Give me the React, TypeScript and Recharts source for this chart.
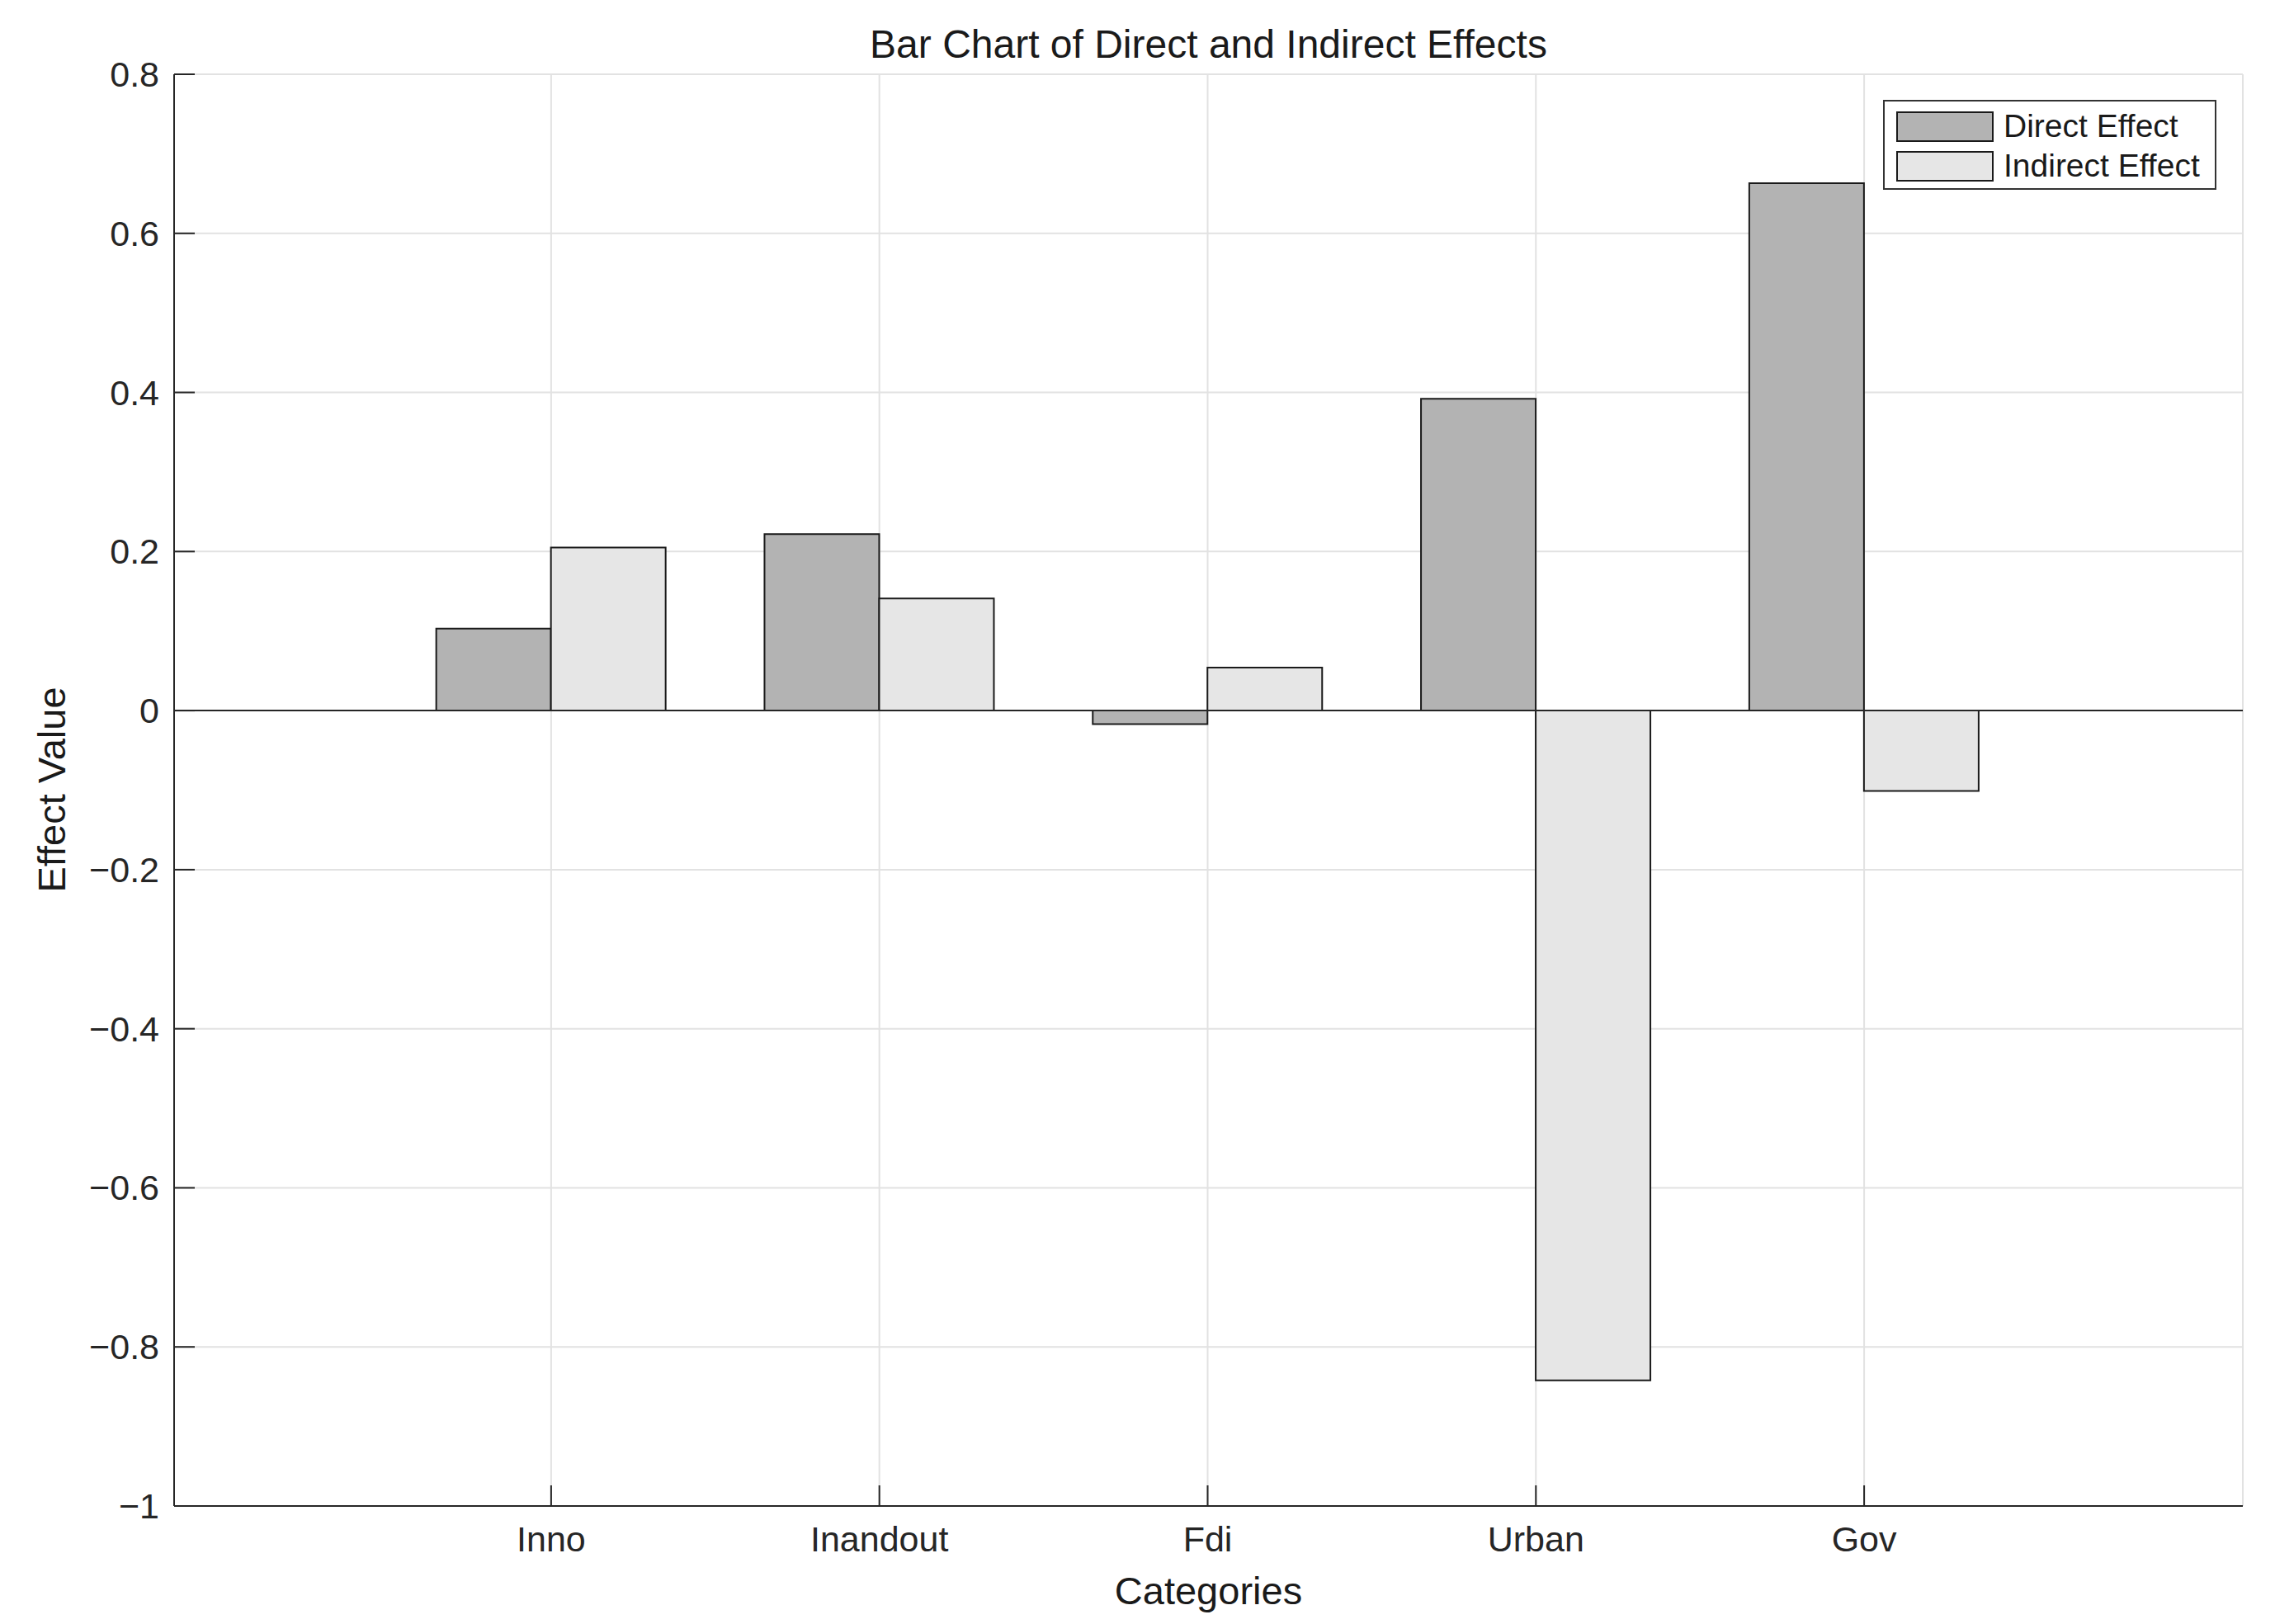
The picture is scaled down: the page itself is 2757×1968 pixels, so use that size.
import { BarChart, Bar, XAxis, YAxis, CartesianGrid, ReferenceLine } from "recharts";

const categories = ["Inno", "Inandout", "Fdi", "Urban", "Gov"];
const directEffect = [0.103, 0.222, -0.017, 0.392, 0.663];
const indirectEffect = [0.205, 0.141, 0.054, -0.842, -0.101];
const yTicks = [-1, -0.8, -0.6, -0.4, -0.2, 0, 0.2, 0.4, 0.6, 0.8];

const data = categories.map((name, i) => ({
  name,
  direct: directEffect[i],
  indirect: indirectEffect[i],
}));

const W = 2757;
const H = 1968;
const FONT = "'Liberation Sans', Arial, Helvetica, sans-serif";
const AXIS = "#262626";
const TICK_LEN = 25;

const fmt = (v: number) => (v === 0 ? "0" : v < 0 ? "\u2212" + Math.abs(v) : String(v));

const LeftTick = (props: any) => {
  const { x, y, payload } = props;
  const ax = x + 18;
  return (
    <g>
      <line x1={ax} x2={ax + TICK_LEN} y1={y} y2={y} stroke={AXIS} strokeWidth={2} />
      <text x={x} y={y} dy="0.35em" textAnchor="end" fontSize={43} fill="#262626" fontFamily={FONT}>
        {fmt(payload.value)}
      </text>
    </g>
  );
};

const RightTick = (props: any) => {
  const { x, y } = props;
  return <line x1={x} x2={x - TICK_LEN} y1={y} y2={y} stroke={AXIS} strokeWidth={2} />;
};

const BottomTick = (props: any) => {
  const { x, y, payload } = props;
  const ay = y - 40;
  return (
    <g>
      <line x1={x} x2={x} y1={ay} y2={ay - TICK_LEN} stroke={AXIS} strokeWidth={2} />
      <text x={x} y={y} dy="0.35em" textAnchor="middle" fontSize={43} fill="#262626" fontFamily={FONT}>
        {payload.value}
      </text>
    </g>
  );
};

const TopTick = (props: any) => {
  const { x, y } = props;
  return <line x1={x} x2={x} y1={y} y2={y + TICK_LEN} stroke={AXIS} strokeWidth={2} />;
};

const legendItems = [
  { label: "Direct Effect", color: "#b3b3b3" },
  { label: "Indirect Effect", color: "#e6e6e6" },
];

const LegendBox = () => (
  <div
    style={{
      position: "absolute",
      left: 2282,
      top: 121,
      border: "2px solid #333",
      background: "#fff",
      boxSizing: "border-box",
      width: 404,
      height: 109,
      padding: "6px 0 0 14px",
      fontFamily: FONT,
      fontSize: 39,
      color: "#1a1a1a",
      zIndex: 2,
    }}
  >
    {legendItems.map((it) => (
      <div key={it.label} style={{ display: "flex", alignItems: "center", height: 48 }}>
        <div
          style={{
            width: 118,
            height: 37,
            boxSizing: "border-box",
            background: it.color,
            border: "2px solid #1a1a1a",
            marginRight: 12,
          }}
        />
        <span style={{ lineHeight: "48px" }}>{it.label}</span>
      </div>
    ))}
  </div>
);

export default function App() {
  return (
    <div style={{ position: "absolute", left: 0, top: 0, width: W, height: H, background: "#fff" }}>
      <div
        style={{
          position: "absolute",
          left: 211,
          width: 2507,
          top: 28,
          textAlign: "center",
          fontFamily: FONT,
          fontSize: 48,
          lineHeight: "52px",
          color: "#1a1a1a",
        }}
      >
        Bar Chart of Direct and Indirect Effects
      </div>
      <div
        style={{
          position: "absolute",
          left: 62,
          top: 957,
          transform: "translate(-50%, -50%) rotate(-90deg)",
          whiteSpace: "nowrap",
          fontFamily: FONT,
          fontSize: 47,
          color: "#1a1a1a",
        }}
      >
        Effect Value
      </div>
      <div
        style={{
          position: "absolute",
          left: 211,
          width: 2507,
          top: 1927,
          transform: "translateY(-50%)",
          textAlign: "center",
          fontFamily: FONT,
          fontSize: 47,
          color: "#1a1a1a",
        }}
      >
        Categories
      </div>
      <BarChart
        width={W}
        height={H}
        data={data}
        margin={{ top: 90, right: 39, bottom: 0, left: 0 }}
        barCategoryGap="15%"
        barGap={0}
        style={{ position: "absolute", left: 0, top: 0 }}
      >
        <CartesianGrid stroke="#e2e2e2" strokeWidth={2} />
        <XAxis
          dataKey="name"
          height={143}
          padding={{ left: 258, right: 260 }}
          tickSize={0}
          tickMargin={40}
          axisLine={{ stroke: AXIS, strokeWidth: 2 }}
          tickLine={false}
          tick={<BottomTick />}
          interval={0}
        />
        <XAxis
          xAxisId="top"
          dataKey="name"
          orientation="top"
          height={0}
          padding={{ left: 258, right: 260 }}
          tickSize={0}
          tickMargin={0}
          axisLine={{ stroke: AXIS, strokeWidth: 2 }}
          tickLine={false}
          tick={<TopTick />}
          interval={0}
        />
        <YAxis
          type="number"
          domain={[-1, 0.8]}
          ticks={yTicks}
          width={211}
          tickSize={0}
          tickMargin={18}
          axisLine={{ stroke: AXIS, strokeWidth: 2 }}
          tickLine={false}
          tick={<LeftTick />}
          interval={0}
          allowDataOverflow
        />
        <YAxis
          yAxisId="right"
          orientation="right"
          type="number"
          domain={[-1, 0.8]}
          ticks={yTicks}
          width={0}
          tickSize={0}
          tickMargin={0}
          axisLine={{ stroke: AXIS, strokeWidth: 2 }}
          tickLine={false}
          tick={<RightTick />}
          interval={0}
          allowDataOverflow
        />
        <Bar
          dataKey="direct"
          name="Direct Effect"
          fill="#b3b3b3"
          stroke="#1a1a1a"
          strokeWidth={2}
          isAnimationActive={false}
        />
        <Bar
          dataKey="indirect"
          name="Indirect Effect"
          fill="#e6e6e6"
          stroke="#1a1a1a"
          strokeWidth={2}
          isAnimationActive={false}
        />
        <ReferenceLine y={0} stroke={AXIS} strokeWidth={2} />
      </BarChart>
      <LegendBox />
    </div>
  );
}
